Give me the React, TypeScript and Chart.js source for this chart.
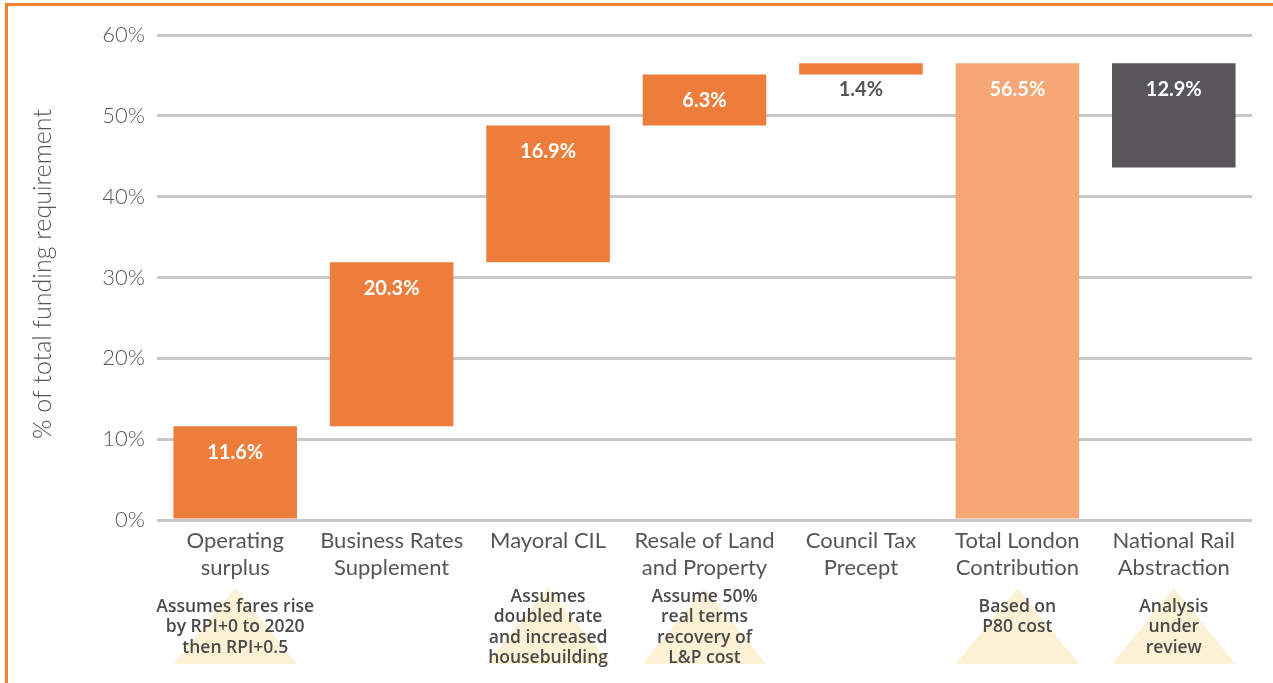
import React, { useEffect, useRef } from "react";
import { Chart, registerables } from "chart.js";

Chart.register(...registerables);

const categories: string[][] = [
  ["Operating", "surplus"],
  ["Business Rates", "Supplement"],
  ["Mayoral CIL"],
  ["Resale of Land", "and Property"],
  ["Council Tax", "Precept"],
  ["Total London", "Contribution"],
  ["National Rail", "Abstraction"],
];
const values = [11.6, 20.3, 16.9, 6.3, 1.4, 56.5, 12.9];
const barStarts = [0, 11.6, 31.9, 48.8, 55.1, 0, 43.6];
const valueLabels = ["11.6%", "20.3%", "16.9%", "6.3%", "1.4%", "56.5%", "12.9%"];
const barColors = ["#ED7D3A", "#ED7D3A", "#ED7D3A", "#ED7D3A", "#ED7D3A", "#F5A775", "#58565B"];
const labelColors = ["#FFFFFF", "#FFFFFF", "#FFFFFF", "#FFFFFF", "#555555", "#FFFFFF", "#FFFFFF"];
const notes: (string[] | null)[] = [
  ["Assumes fares rise", "by RPI+0 to 2020", "then RPI+0.5"],
  null,
  ["Assumes", "doubled rate", "and increased", "housebuilding"],
  ["Assume 50%", "real terms", "recovery of", "L&P cost"],
  null,
  ["Based on", "P80 cost"],
  ["Analysis", "under", "review"],
];
const yTicks = [0, 10, 20, 30, 40, 50, 60];
const yTitle = "% of total funding requirement";

const FONT = "Lato, 'Open Sans', sans-serif";
const NOTE_FONT = "'Open Sans', Lato, sans-serif";

const decorPlugin = {
  id: "decor",
  afterDatasetsDraw(chart: any) {
    const ctx = chart.ctx;
    const meta = chart.getDatasetMeta(0);
    ctx.save();
    ctx.font = `bold 20px ${FONT}`;
    ctx.textAlign = "center";
    ctx.textBaseline = "middle";
    meta.data.forEach((el: any, i: number) => {
      const top = Math.min(el.y, el.base);
      ctx.fillStyle = labelColors[i];
      ctx.fillText(valueLabels[i], el.x, top + 26);
    });
    ctx.restore();
  },
  afterDraw(chart: any) {
    const ctx = chart.ctx;
    const meta = chart.getDatasetMeta(0);
    ctx.save();
    meta.data.forEach((el: any, i: number) => {
      const lines = notes[i];
      if (!lines) return;
      const half = el.width / 2;
      ctx.fillStyle = "#FDF1D5";
      ctx.beginPath();
      ctx.moveTo(el.x, 588);
      ctx.lineTo(el.x + half, 664);
      ctx.lineTo(el.x - half, 664);
      ctx.closePath();
      ctx.fill();
      ctx.font = `600 17.5px ${NOTE_FONT}`;
      ctx.fillStyle = "#4A4A4A";
      ctx.textAlign = "center";
      ctx.textBaseline = "middle";
      const startY = lines.length >= 4 ? 597 : 607;
      lines.forEach((ln, k) => ctx.fillText(ln, el.x, startY + k * 20.4));
    });
    ctx.translate(43, 274);
    ctx.rotate(-Math.PI / 2);
    ctx.font = `300 25px ${FONT}`;
    ctx.fillStyle = "#555555";
    ctx.textAlign = "center";
    ctx.textBaseline = "middle";
    ctx.fillText(yTitle, 0, 0);
    ctx.restore();
    ctx.save();
    ctx.fillStyle = "#F5812E";
    ctx.fillRect(5, 3, chart.width - 5, 3);
    ctx.fillRect(5, 3, 3, chart.height - 3);
    ctx.restore();
  },
};

export default function App() {
  const ref = useRef<HTMLCanvasElement>(null);
  useEffect(() => {
    if (!ref.current) return;
    const chart = new Chart(ref.current, {
      type: "bar",
      data: {
        labels: categories,
        datasets: [
          {
            data: values.map((v, i) => [barStarts[i], barStarts[i] + v]) as any,
            backgroundColor: barColors,
            borderWidth: 0,
            barPercentage: 0.79,
            categoryPercentage: 1,
          },
        ],
      },
      options: {
        responsive: false,
        animation: false,
        layout: { padding: { top: 35, right: 21, left: 0, bottom: 0 } },
        plugins: { legend: { display: false }, tooltip: { enabled: false } },
        scales: {
          x: {
            grid: { display: false },
            border: { display: false },
            ticks: {
              color: "#555555",
              font: { family: FONT, size: 22, weight: "normal" as any, lineHeight: 1.24 },
              padding: -1,
              maxRotation: 0,
              autoSkip: false,
            },
            afterFit(scale: any) {
              scale.height = 163;
            },
          },
          y: {
            min: 0,
            max: 60,
            afterBuildTicks(scale: any) {
              scale.ticks = yTicks.map((v) => ({ value: v }));
            },
            grid: { color: "#C8C8C8", lineWidth: 3, drawTicks: false },
            border: { display: false },
            ticks: {
              color: "#555555",
              font: { family: FONT, size: 22, weight: "300" as any },
              padding: 12,
              callback: (v: any) => `${v}%`,
            },
            afterFit(scale: any) {
              scale.width = 157;
            },
          },
        },
      },
      plugins: [decorPlugin],
    });
    return () => chart.destroy();
  }, []);
  return (
    <div style={{ position: "absolute", left: 0, top: 0, width: 1273, height: 683, background: "#fff" }}>
      <canvas ref={ref} width={1273} height={683} />
    </div>
  );
}
